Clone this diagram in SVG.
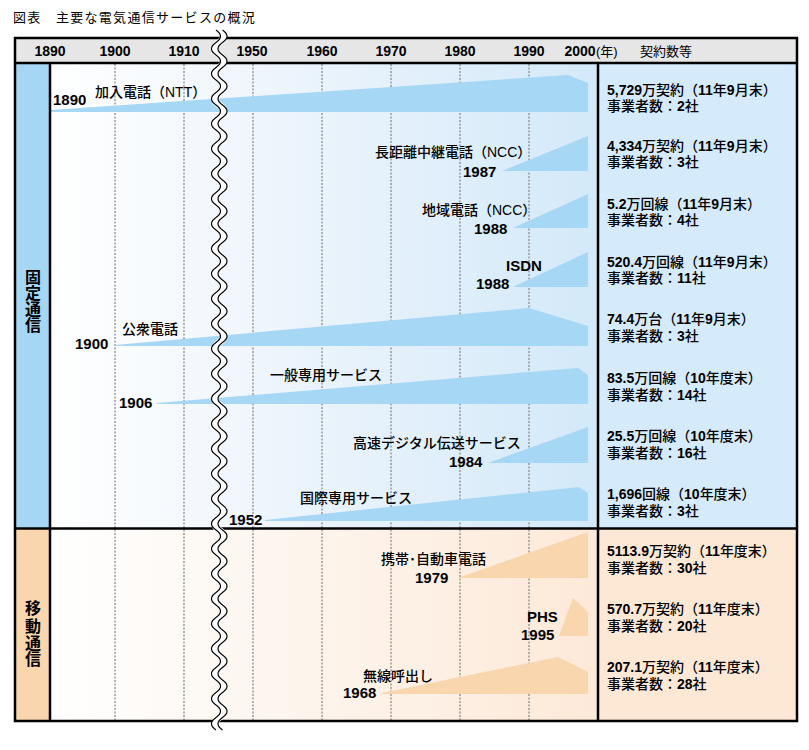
<svg xmlns="http://www.w3.org/2000/svg" xmlns:xlink="http://www.w3.org/1999/xlink" width="809" height="750" viewBox="0 0 809 750">
<style>
text{font-family:"Liberation Sans","Noto Sans CJK JP",sans-serif;fill:#000}
.ttl{font-size:13px;letter-spacing:1.3px}
.hdr{font-size:14px;font-weight:bold;text-anchor:middle}
.hdrj{font-size:13px}
.yr{font-size:15px;font-weight:bold}
.lb{font-size:14px;font-weight:500}
.r1{font-size:14px;font-weight:500}
.r2{font-size:14px;font-weight:500}
.d{font-weight:bold}
.side{font-size:16px;font-weight:bold;text-anchor:middle}
.grid{stroke:#8c8c8c;stroke-width:1.3;stroke-dasharray:2 1.5;fill:none}
.frame{stroke:#000;stroke-width:2.5;fill:none}
.bf{fill:#a6d7f5}
.bm{fill:#f9d6ae}
.wv{fill:none;stroke:#000;stroke-width:1.2}
.wvw{fill:none;stroke:#fff;stroke-width:7}
</style>
<defs>
<linearGradient id="gf" x1="50" y1="0" x2="598" y2="0" gradientUnits="userSpaceOnUse">
<stop offset="0" stop-color="#ffffff"/><stop offset="0.4" stop-color="#eef5fc"/><stop offset="1" stop-color="#d3e9f9"/>
</linearGradient>
<linearGradient id="gm" x1="50" y1="0" x2="598" y2="0" gradientUnits="userSpaceOnUse">
<stop offset="0" stop-color="#ffffff"/><stop offset="0.4" stop-color="#fdf6ef"/><stop offset="1" stop-color="#fde9d8"/>
</linearGradient>
<path id="wave" d="M0,30 q9,6.25 0,12.5 t0,12.5 t0,12.5 t0,12.5 t0,12.5 t0,12.5 t0,12.5 t0,12.5 t0,12.5 t0,12.5 t0,12.5 t0,12.5 t0,12.5 t0,12.5 t0,12.5 t0,12.5 t0,12.5 t0,12.5 t0,12.5 t0,12.5 t0,12.5 t0,12.5 t0,12.5 t0,12.5 t0,12.5 t0,12.5 t0,12.5 t0,12.5 t0,12.5 t0,12.5 t0,12.5 t0,12.5 t0,12.5 t0,12.5 t0,12.5 t0,12.5 t0,12.5 t0,12.5 t0,12.5 t0,12.5 t0,12.5 t0,12.5 t0,12.5 t0,12.5 t0,12.5 t0,12.5 t0,12.5 t0,12.5 t0,12.5 t0,12.5 t0,12.5 t0,12.5 t0,12.5 t0,12.5 t0,12.5 t0,12.5"/>
</defs>
<rect width="809" height="750" fill="#fff"/>
<text class="ttl" x="13" y="22">図表　主要な電気通信サービスの概況</text>

<g id="backgrounds">
<rect x="15" y="38" width="782" height="25" fill="#e6e6e6"/>
<rect x="15" y="63" width="35" height="465.5" fill="#a5d6f4"/>
<rect x="15" y="528.5" width="35" height="192.5" fill="#f9d6ae"/>
<rect x="50" y="63" width="548" height="465.5" fill="url(#gf)"/>
<rect x="50" y="528.5" width="548" height="192.5" fill="url(#gm)"/>
<rect x="598" y="63" width="199" height="465.5" fill="#d5eafa"/>
<rect x="598" y="528.5" width="199" height="192.5" fill="#fde8d5"/>
</g>

<g id="grid">
<line class="grid" x1="115" y1="64" x2="115" y2="720"/>
<line class="grid" x1="184" y1="64" x2="184" y2="720"/>
<line class="grid" x1="253" y1="64" x2="253" y2="720"/>
<line class="grid" x1="322" y1="64" x2="322" y2="720"/>
<line class="grid" x1="391" y1="64" x2="391" y2="720"/>
<line class="grid" x1="460" y1="64" x2="460" y2="720"/>
<line class="grid" x1="529" y1="64" x2="529" y2="720"/>
</g>

<g id="header">
<text class="hdr" x="50" y="56">1890</text>
<text class="hdr" x="115" y="56">1900</text>
<text class="hdr" x="184" y="56">1910</text>
<text class="hdr" x="252" y="56">1950</text>
<text class="hdr" x="322" y="56">1960</text>
<text class="hdr" x="391" y="56">1970</text>
<text class="hdr" x="460" y="56">1980</text>
<text class="hdr" x="529" y="56">1990</text>
<text class="hdr" x="580" y="56">2000</text>
<text class="hdrj" x="596" y="56">(年)</text>
<text class="hdrj" x="640" y="56">契約数等</text>
</g>

<g id="side-labels">
<text class="side"><tspan x="33" y="283">固</tspan><tspan x="33" y="299">定</tspan><tspan x="33" y="315">通</tspan><tspan x="33" y="331">信</tspan></text>
<text class="side"><tspan x="33" y="614">移</tspan><tspan x="33" y="632">動</tspan><tspan x="33" y="649">通</tspan><tspan x="33" y="665">信</tspan></text>
</g>

<g id="svc-kanyu">
<polygon class="bf" points="50,110 568,75 588,83 588,112 50,112"/>
<text class="lb" x="95" y="97">加入電話（NTT）</text>
<text class="yr" x="53" y="105">1890</text>
</g>
<g id="svc-chokyori">
<polygon class="bf" points="502,171 588,136 588,171"/>
<text class="lb" x="375" y="157">長距離中継電話（NCC）</text>
<text class="yr" x="463" y="177">1987</text>
</g>
<g id="svc-chiiki">
<polygon class="bf" points="513,228 588,194 588,228"/>
<text class="lb" x="422" y="215">地域電話（NCC）</text>
<text class="yr" x="474" y="234">1988</text>
</g>
<g id="svc-isdn">
<polygon class="bf" points="513,287 588,252 588,287"/>
<text class="yr" x="506" y="271">ISDN</text>
<text class="yr" x="476" y="289">1988</text>
</g>
<g id="svc-koshu">
<polygon class="bf" points="115,345 529,308 588,326 588,346 115,346"/>
<text class="lb" x="122" y="334">公衆電話</text>
<text class="yr" x="75" y="349">1900</text>
</g>
<g id="svc-ippan">
<polygon class="bf" points="157,403 578,368 588,375 588,404 157,404"/>
<text class="lb" x="270" y="380">一般専用サービス</text>
<text class="yr" x="119" y="408">1906</text>
</g>
<g id="svc-kosoku">
<polygon class="bf" points="488,463 588,427 588,463"/>
<text class="lb" x="353" y="448">高速デジタル伝送サービス</text>
<text class="yr" x="449" y="467">1984</text>
</g>
<g id="svc-kokusai">
<polygon class="bf" points="265,520 579,487 588,493 588,521 265,521"/>
<text class="lb" x="300" y="503">国際専用サービス</text>
</g>
<g id="svc-keitai">
<polygon class="bm" points="458,578 588,532 588,578"/>
<text class="lb" x="381" y="564">携帯･自動車電話</text>
<text class="yr" x="415" y="583">1979</text>
</g>
<g id="svc-phs">
<polygon class="bm" points="559,636 573,598 588,612 588,636"/>
<text class="yr" x="527" y="622">PHS</text>
<text class="yr" x="521" y="640">1995</text>
</g>
<g id="svc-musen">
<polygon class="bm" points="382,693 558,657 588,672 588,694 382,694"/>
<text class="lb" x="363" y="681">無線呼出し</text>
<text class="yr" x="343" y="698">1968</text>
</g>

<g id="frame">
<rect class="frame" x="15" y="38" width="782" height="683"/>
<line class="frame" x1="15" y1="63" x2="797" y2="63"/>
<line class="frame" x1="15" y1="528.5" x2="797" y2="528.5"/>
<line class="frame" x1="50" y1="63" x2="50" y2="721"/>
<line class="frame" x1="598" y1="63" x2="598" y2="721"/>
</g>

<g id="break">
<use xlink:href="#wave" class="wvw" x="219.25"/>
<use xlink:href="#wave" class="wv" x="216"/>
<use xlink:href="#wave" class="wv" x="222.5"/>
</g>
<text class="yr" x="229" y="525">1952</text>

<g id="figures">
<g id="fig-kanyu"><text class="r1" x="607" y="95"><tspan class="d">5,729</tspan>万契約（<tspan class="d">11</tspan>年<tspan class="d">9</tspan>月末）</text><text class="r2" x="607" y="111">事業者数：<tspan class="d">2</tspan>社</text></g>
<g id="fig-chokyori"><text class="r1" x="607" y="151"><tspan class="d">4,334</tspan>万契約（<tspan class="d">11</tspan>年<tspan class="d">9</tspan>月末）</text><text class="r2" x="607" y="167">事業者数：<tspan class="d">3</tspan>社</text></g>
<g id="fig-chiiki"><text class="r1" x="607" y="209"><tspan class="d">5.2</tspan>万回線（<tspan class="d">11</tspan>年<tspan class="d">9</tspan>月末）</text><text class="r2" x="607" y="225">事業者数：<tspan class="d">4</tspan>社</text></g>
<g id="fig-isdn"><text class="r1" x="607" y="267"><tspan class="d">520.4</tspan>万回線（<tspan class="d">11</tspan>年<tspan class="d">9</tspan>月末）</text><text class="r2" x="607" y="283">事業者数：<tspan class="d">11</tspan>社</text></g>
<g id="fig-koshu"><text class="r1" x="607" y="324"><tspan class="d">74.4</tspan>万台（<tspan class="d">11</tspan>年<tspan class="d">9</tspan>月末）</text><text class="r2" x="607" y="341">事業者数：<tspan class="d">3</tspan>社</text></g>
<g id="fig-ippan"><text class="r1" x="607" y="383"><tspan class="d">83.5</tspan>万回線（<tspan class="d">10</tspan>年度末）</text><text class="r2" x="607" y="400">事業者数：<tspan class="d">14</tspan>社</text></g>
<g id="fig-kosoku"><text class="r1" x="607" y="441"><tspan class="d">25.5</tspan>万回線（<tspan class="d">10</tspan>年度末）</text><text class="r2" x="607" y="458">事業者数：<tspan class="d">16</tspan>社</text></g>
<g id="fig-kokusai"><text class="r1" x="607" y="499"><tspan class="d">1,696</tspan>回線（<tspan class="d">10</tspan>年度末）</text><text class="r2" x="607" y="516">事業者数：<tspan class="d">3</tspan>社</text></g>
<g id="fig-keitai"><text class="r1" x="607" y="556"><tspan class="d">5113.9</tspan>万契約（<tspan class="d">11</tspan>年度末）</text><text class="r2" x="607" y="573">事業者数：<tspan class="d">30</tspan>社</text></g>
<g id="fig-phs"><text class="r1" x="607" y="614"><tspan class="d">570.7</tspan>万契約（<tspan class="d">11</tspan>年度末）</text><text class="r2" x="607" y="631">事業者数：<tspan class="d">20</tspan>社</text></g>
<g id="fig-musen"><text class="r1" x="607" y="672"><tspan class="d">207.1</tspan>万契約（<tspan class="d">11</tspan>年度末）</text><text class="r2" x="607" y="689">事業者数：<tspan class="d">28</tspan>社</text></g>
</g>
</svg>
